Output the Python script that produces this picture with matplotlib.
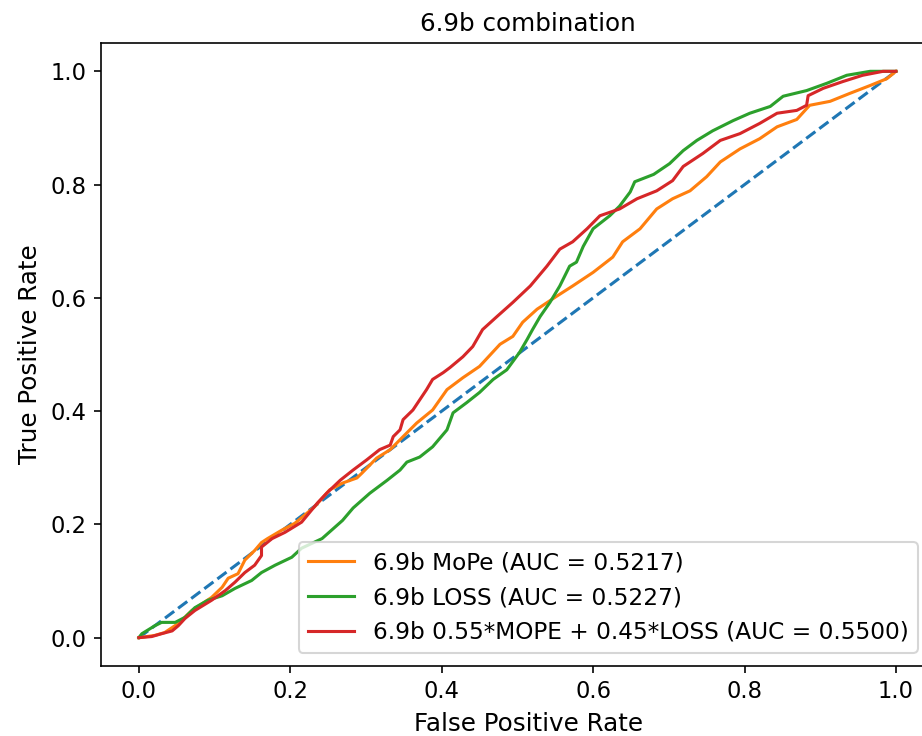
import matplotlib
matplotlib.use("Agg")
import matplotlib.pyplot as plt

# values
mope_fpr = [0.0, 0.021, 0.034, 0.052, 0.070, 0.096, 0.110, 0.118, 0.131, 0.140,
            0.153, 0.162, 0.170, 0.189, 0.206, 0.232, 0.252, 0.269, 0.288, 0.295,
            0.314, 0.332, 0.349, 0.367, 0.388, 0.407, 0.428, 0.450, 0.477, 0.494,
            0.507, 0.526, 0.552, 0.573, 0.600, 0.626, 0.639, 0.662, 0.684, 0.705,
            0.728, 0.750, 0.768, 0.794, 0.820, 0.843, 0.869, 0.886, 0.913, 0.939,
            0.966, 0.988, 1.0]
mope_tpr = [0.0, 0.004, 0.009, 0.025, 0.048, 0.071, 0.089, 0.105, 0.113, 0.137,
            0.154, 0.168, 0.175, 0.190, 0.202, 0.231, 0.261, 0.273, 0.282, 0.291,
            0.317, 0.332, 0.355, 0.379, 0.402, 0.438, 0.459, 0.479, 0.518, 0.532,
            0.557, 0.580, 0.603, 0.621, 0.645, 0.672, 0.699, 0.722, 0.757, 0.775,
            0.789, 0.814, 0.840, 0.863, 0.881, 0.902, 0.915, 0.940, 0.947, 0.961,
            0.975, 0.987, 1.0]

loss_fpr = [0.0, 0.004, 0.021, 0.030, 0.048, 0.061, 0.074, 0.091, 0.110, 0.127,
            0.149, 0.162, 0.180, 0.202, 0.215, 0.242, 0.269, 0.283, 0.305, 0.328,
            0.345, 0.354, 0.371, 0.388, 0.407, 0.415, 0.433, 0.450, 0.468, 0.486,
            0.503, 0.513, 0.520, 0.530, 0.543, 0.556, 0.569, 0.578, 0.587, 0.600,
            0.622, 0.635, 0.649, 0.655, 0.680, 0.701, 0.719, 0.737, 0.758, 0.785,
            0.807, 0.834, 0.851, 0.882, 0.909, 0.935, 0.966, 1.0]
loss_tpr = [0.0, 0.007, 0.021, 0.027, 0.027, 0.036, 0.053, 0.066, 0.074, 0.087,
            0.101, 0.115, 0.128, 0.142, 0.158, 0.175, 0.207, 0.229, 0.255, 0.278,
            0.296, 0.310, 0.319, 0.337, 0.367, 0.397, 0.415, 0.433, 0.456, 0.473,
            0.504, 0.527, 0.544, 0.567, 0.592, 0.621, 0.656, 0.663, 0.691, 0.722,
            0.745, 0.762, 0.787, 0.805, 0.818, 0.837, 0.860, 0.878, 0.895, 0.913,
            0.926, 0.938, 0.956, 0.966, 0.979, 0.993, 1.0, 1.0]

combo_fpr = [0.0, 0.017, 0.030, 0.044, 0.052, 0.061, 0.074, 0.096, 0.114, 0.127,
             0.140, 0.153, 0.162, 0.162, 0.176, 0.193, 0.215, 0.236, 0.248, 0.266,
             0.283, 0.301, 0.318, 0.332, 0.336, 0.345, 0.349, 0.362, 0.371, 0.380,
             0.388, 0.402, 0.411, 0.428, 0.441, 0.454, 0.473, 0.494, 0.517, 0.539,
             0.556, 0.573, 0.592, 0.609, 0.635, 0.658, 0.684, 0.705, 0.719, 0.745,
             0.768, 0.794, 0.820, 0.843, 0.869, 0.882, 0.884, 0.904, 0.930, 0.956,
             0.983, 1.0]
combo_tpr = [0.0, 0.002, 0.007, 0.012, 0.021, 0.034, 0.048, 0.066, 0.083, 0.098,
             0.115, 0.128, 0.145, 0.160, 0.175, 0.186, 0.204, 0.238, 0.255, 0.278,
             0.296, 0.314, 0.332, 0.340, 0.355, 0.367, 0.385, 0.402, 0.420, 0.438,
             0.456, 0.468, 0.477, 0.496, 0.514, 0.544, 0.567, 0.592, 0.621, 0.656,
             0.686, 0.699, 0.722, 0.745, 0.757, 0.775, 0.789, 0.807, 0.832, 0.855,
             0.878, 0.890, 0.908, 0.926, 0.931, 0.940, 0.957, 0.970, 0.982, 0.993,
             1.0, 1.0]

labels = ["6.9b MoPe (AUC = 0.5217)",
          "6.9b LOSS (AUC = 0.5227)",
          "6.9b 0.55*MOPE + 0.45*LOSS (AUC = 0.5500)"]

dpi = 148
fig = plt.figure(figsize=(922 / dpi, 736 / dpi), dpi=dpi)
# the reference is cropped on the right, so the axes run past the edge
ax = fig.add_axes([101 / 922, 1 - 666 / 736, 854 / 922, 623 / 736])

ax.plot([0, 1], [0, 1], linestyle="--")
ax.plot(mope_fpr, mope_tpr, label=labels[0])
ax.plot(loss_fpr, loss_tpr, label=labels[1])
ax.plot(combo_fpr, combo_tpr, label=labels[2])
ax.set_xlim(-0.05, 1.078)
ax.set_ylim(-0.05, 1.05)

ax.set_title("6.9b combination", fontsize=12)
ax.set_xlabel("False Positive Rate", fontsize=12)
ax.set_ylabel("True Positive Rate", fontsize=12)
ax.tick_params(labelsize=11)
ax.legend(loc="lower right", bbox_to_anchor=(918 / 922, 1 - 653 / 736),
          bbox_transform=fig.transFigure, borderaxespad=0, fontsize=11.3)

fig.savefig("out.png", dpi=dpi)
